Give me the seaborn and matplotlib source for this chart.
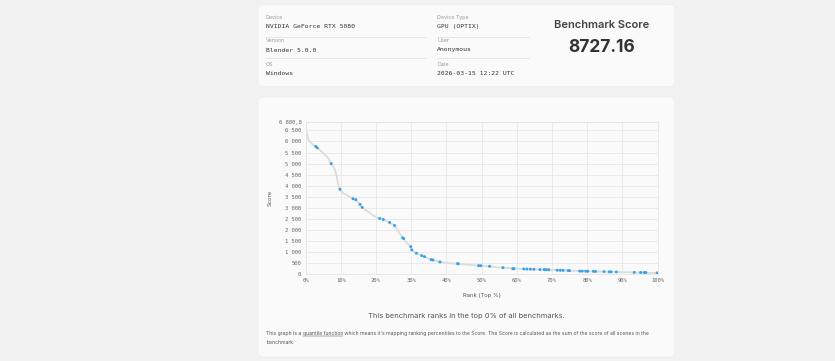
import numpy as np
import pandas as pd
import seaborn as sns
import matplotlib.pyplot as plt
from matplotlib.patches import FancyBboxPatch

# --- data ---
# benchmark points (blue markers): rank in top %, score
point_rank = [2.9, 3.35, 7.3, 9.8, 13.5, 14.3, 15.5, 16.1, 21.1, 22.1, 23.9, 25.3,
              27.6, 27.9, 29.9, 30.2, 31.5, 33.0, 33.8, 35.7, 36.2, 38.2, 43.2, 43.4,
              49.2, 49.8, 52.3, 56.1, 58.9, 59.2, 62.0, 62.9, 63.9, 64.9, 66.6, 67.8,
              68.4, 69.1, 71.5, 72.4, 73.2, 74.6, 75.0, 77.9, 78.6, 79.6, 80.2, 81.8,
              82.4, 84.8, 86.3, 86.8, 88.3, 93.4, 95.2, 96.2, 96.7, 99.9]
point_score = [5773, 5713, 5000, 3832, 3409, 3364, 3150, 3014, 2514, 2468, 2332, 2195,
               1636, 1605, 1241, 1091, 941, 832, 786, 650, 636, 545, 468, 465,
               377, 375, 350, 286, 241, 238, 227, 222, 218, 214, 200, 198,
               196, 194, 170, 167, 164, 155, 152, 130, 128, 125, 123, 118,
               116, 108, 98, 96, 94, 72, 70, 68, 66, 50]

# quantile curve (grey line) vertices
curve_rank = [0, 0.3, 0.8, 1.8, 2.9, 3.35, 5.0, 6.2, 7.3, 8.3, 8.9, 9.3, 9.8, 10.5, 12.0,
              13.5, 14.3, 15.5, 16.1, 17.5, 19.5, 21.1, 22.1, 23.9, 25.3, 26.5, 27.6,
              28.5, 29.9, 30.2, 31.5, 33.0, 33.8, 35.7, 36.2, 38.2, 40.0, 43.3, 49.5,
              56.1, 62.0, 69.1, 75.0, 80.2, 86.8, 93.4, 100]
curve_score = [6880.8, 6400, 6090, 5895, 5773, 5713, 5480, 5300, 5000, 4740, 4420, 4050,
               3832, 3680, 3550, 3409, 3364, 3150, 3014, 2850, 2620, 2514, 2468, 2332,
               2195, 1900, 1636, 1450, 1241, 1091, 941, 832, 786, 650, 636, 545, 500,
               460, 376, 286, 227, 194, 152, 123, 96, 72, 45]

y_ticks = [0, 500, 1000, 1500, 2000, 2500, 3000, 3500, 4000, 4500, 5000, 5500, 6000, 6500, 6880.8]
y_tick_labels = ["0", "500", "1 000", "1 500", "2 000", "2 500", "3 000", "3 500",
                 "4 000", "4 500", "5 000", "5 500", "6 000", "6 500", "6 880,8"]
x_ticks = [0, 10, 20, 30, 40, 50, 60, 70, 80, 90, 100]
x_tick_labels = [f"{v}%" for v in x_ticks]

info_left = [("Device", "NVIDIA GeForce RTX 5080"), ("Version", "Blender 5.0.0"), ("OS", "Windows")]
info_right = [("Device Type", "GPU (OPTIX)"), ("User", "Anonymous"), ("Date", "2026-03-15 12:22 UTC")]
score_text = "8727.16"

points = pd.DataFrame({"rank": point_rank, "score": point_score})
curve = pd.DataFrame({"rank": curve_rank, "score": curve_score})

sns.set_theme(style="whitegrid")
plt.rcParams["font.family"] = ["Inter", "DejaVu Sans"]
MONO = "DejaVu Sans Mono"

fig = plt.figure(figsize=(8.35, 3.61), dpi=100)
fig.patch.set_facecolor("#f2f2f2")

# page layer in pixel coordinates
bg = fig.add_axes([0, 0, 1, 1], zorder=0)
bg.set_xlim(0, 835)
bg.set_ylim(361, 0)
bg.axis("off")

card_color = "#fafafa"
for x0, y0, x1, y1 in [(258, 4.5, 675, 86.5), (258, 97, 675, 357)]:
    bg.add_patch(FancyBboxPatch((x0, y0), x1 - x0, y1 - y0,
                                boxstyle="round,pad=0,rounding_size=5",
                                facecolor=card_color, edgecolor="#ececec", lw=0.5))

# info columns
rows_y = [(17.7, 26.7), (40.7, 50), (64, 73.3)]
for (items, x0, x1) in [(info_left, 266, 426), (info_right, 437, 528.5)]:
    for i, (label, value) in enumerate(items):
        ly, vy = rows_y[i]
        bg.text(x0, ly, label, fontsize=3.8, color="#9a9a9a", va="center")
        bg.text(x0, vy, value, fontsize=4.6, color="#333333", va="center", family=MONO)
        if i < 2:
            sep = 36.5 if i == 0 else 58.3
            bg.plot([x0, x1], [sep, sep], color="#e3e3e3", lw=0.6)

bg.text(602, 25, "Benchmark Score", fontsize=8, fontweight="semibold",
        color="#444444", ha="center", va="center")
bg.text(602, 47.3, score_text, fontsize=12.5, fontweight="bold",
        color="#333333", ha="center", va="center")

bg.text(466, 315.7, "This benchmark ranks in the top 0% of all benchmarks.",
        fontsize=5.4, color="#555555", ha="center", va="center")

# footnote with underlined link text
fig.canvas.draw()
renderer = fig.canvas.get_renderer()
pieces = ["This graph is a ", "quantile function",
          " which means it's mapping ranking percentiles to the Score. "
          "The Score is calculated as the sum of the score of all scenes in the"]
x = 266.3
for i, piece in enumerate(pieces):
    t = bg.text(x, 333.3, piece, fontsize=3.65, color="#555555", va="center")
    w = t.get_window_extent(renderer).width
    if i == 1:
        bg.plot([x, x + w], [336, 336], color="#555555", lw=0.35)
    x += w
bg.text(266.3, 342.7, "benchmark.", fontsize=3.65, color="#555555", va="center")

# chart
ax = fig.add_axes([305.5 / 835, 1 - 274 / 361, 352 / 835, 152 / 361], zorder=2)
ax.set_facecolor(card_color)
sns.lineplot(data=curve, x="rank", y="score", ax=ax, color="#dcdcdc", lw=1.3, zorder=2)
sns.scatterplot(data=points, x="rank", y="score", ax=ax, color="#36a2eb",
                s=4.5, marker="o", edgecolor="none", zorder=3)

ax.set_xlim(0, 100)
ax.set_ylim(0, 6880.8)
ax.set_xticks(x_ticks)
ax.set_xticklabels(x_tick_labels)
ax.set_yticks(y_ticks)
ax.set_yticklabels(y_tick_labels)
ax.tick_params(length=0, labelsize=4, labelcolor="#666666", pad=3)
for lab in ax.get_xticklabels() + ax.get_yticklabels():
    lab.set_family(MONO)
ax.grid(True, color="#e8e8e8", lw=0.6)
for s in ax.spines.values():
    s.set_color("#e4e4e4")
    s.set_linewidth(0.6)
ax.set_xlabel("Rank (Top %)", fontsize=4.2, color="#555555", labelpad=7)
ax.set_ylabel("Score", fontsize=4.2, color="#555555", labelpad=4)

fig.savefig("out.png", dpi=100, facecolor=fig.get_facecolor())
